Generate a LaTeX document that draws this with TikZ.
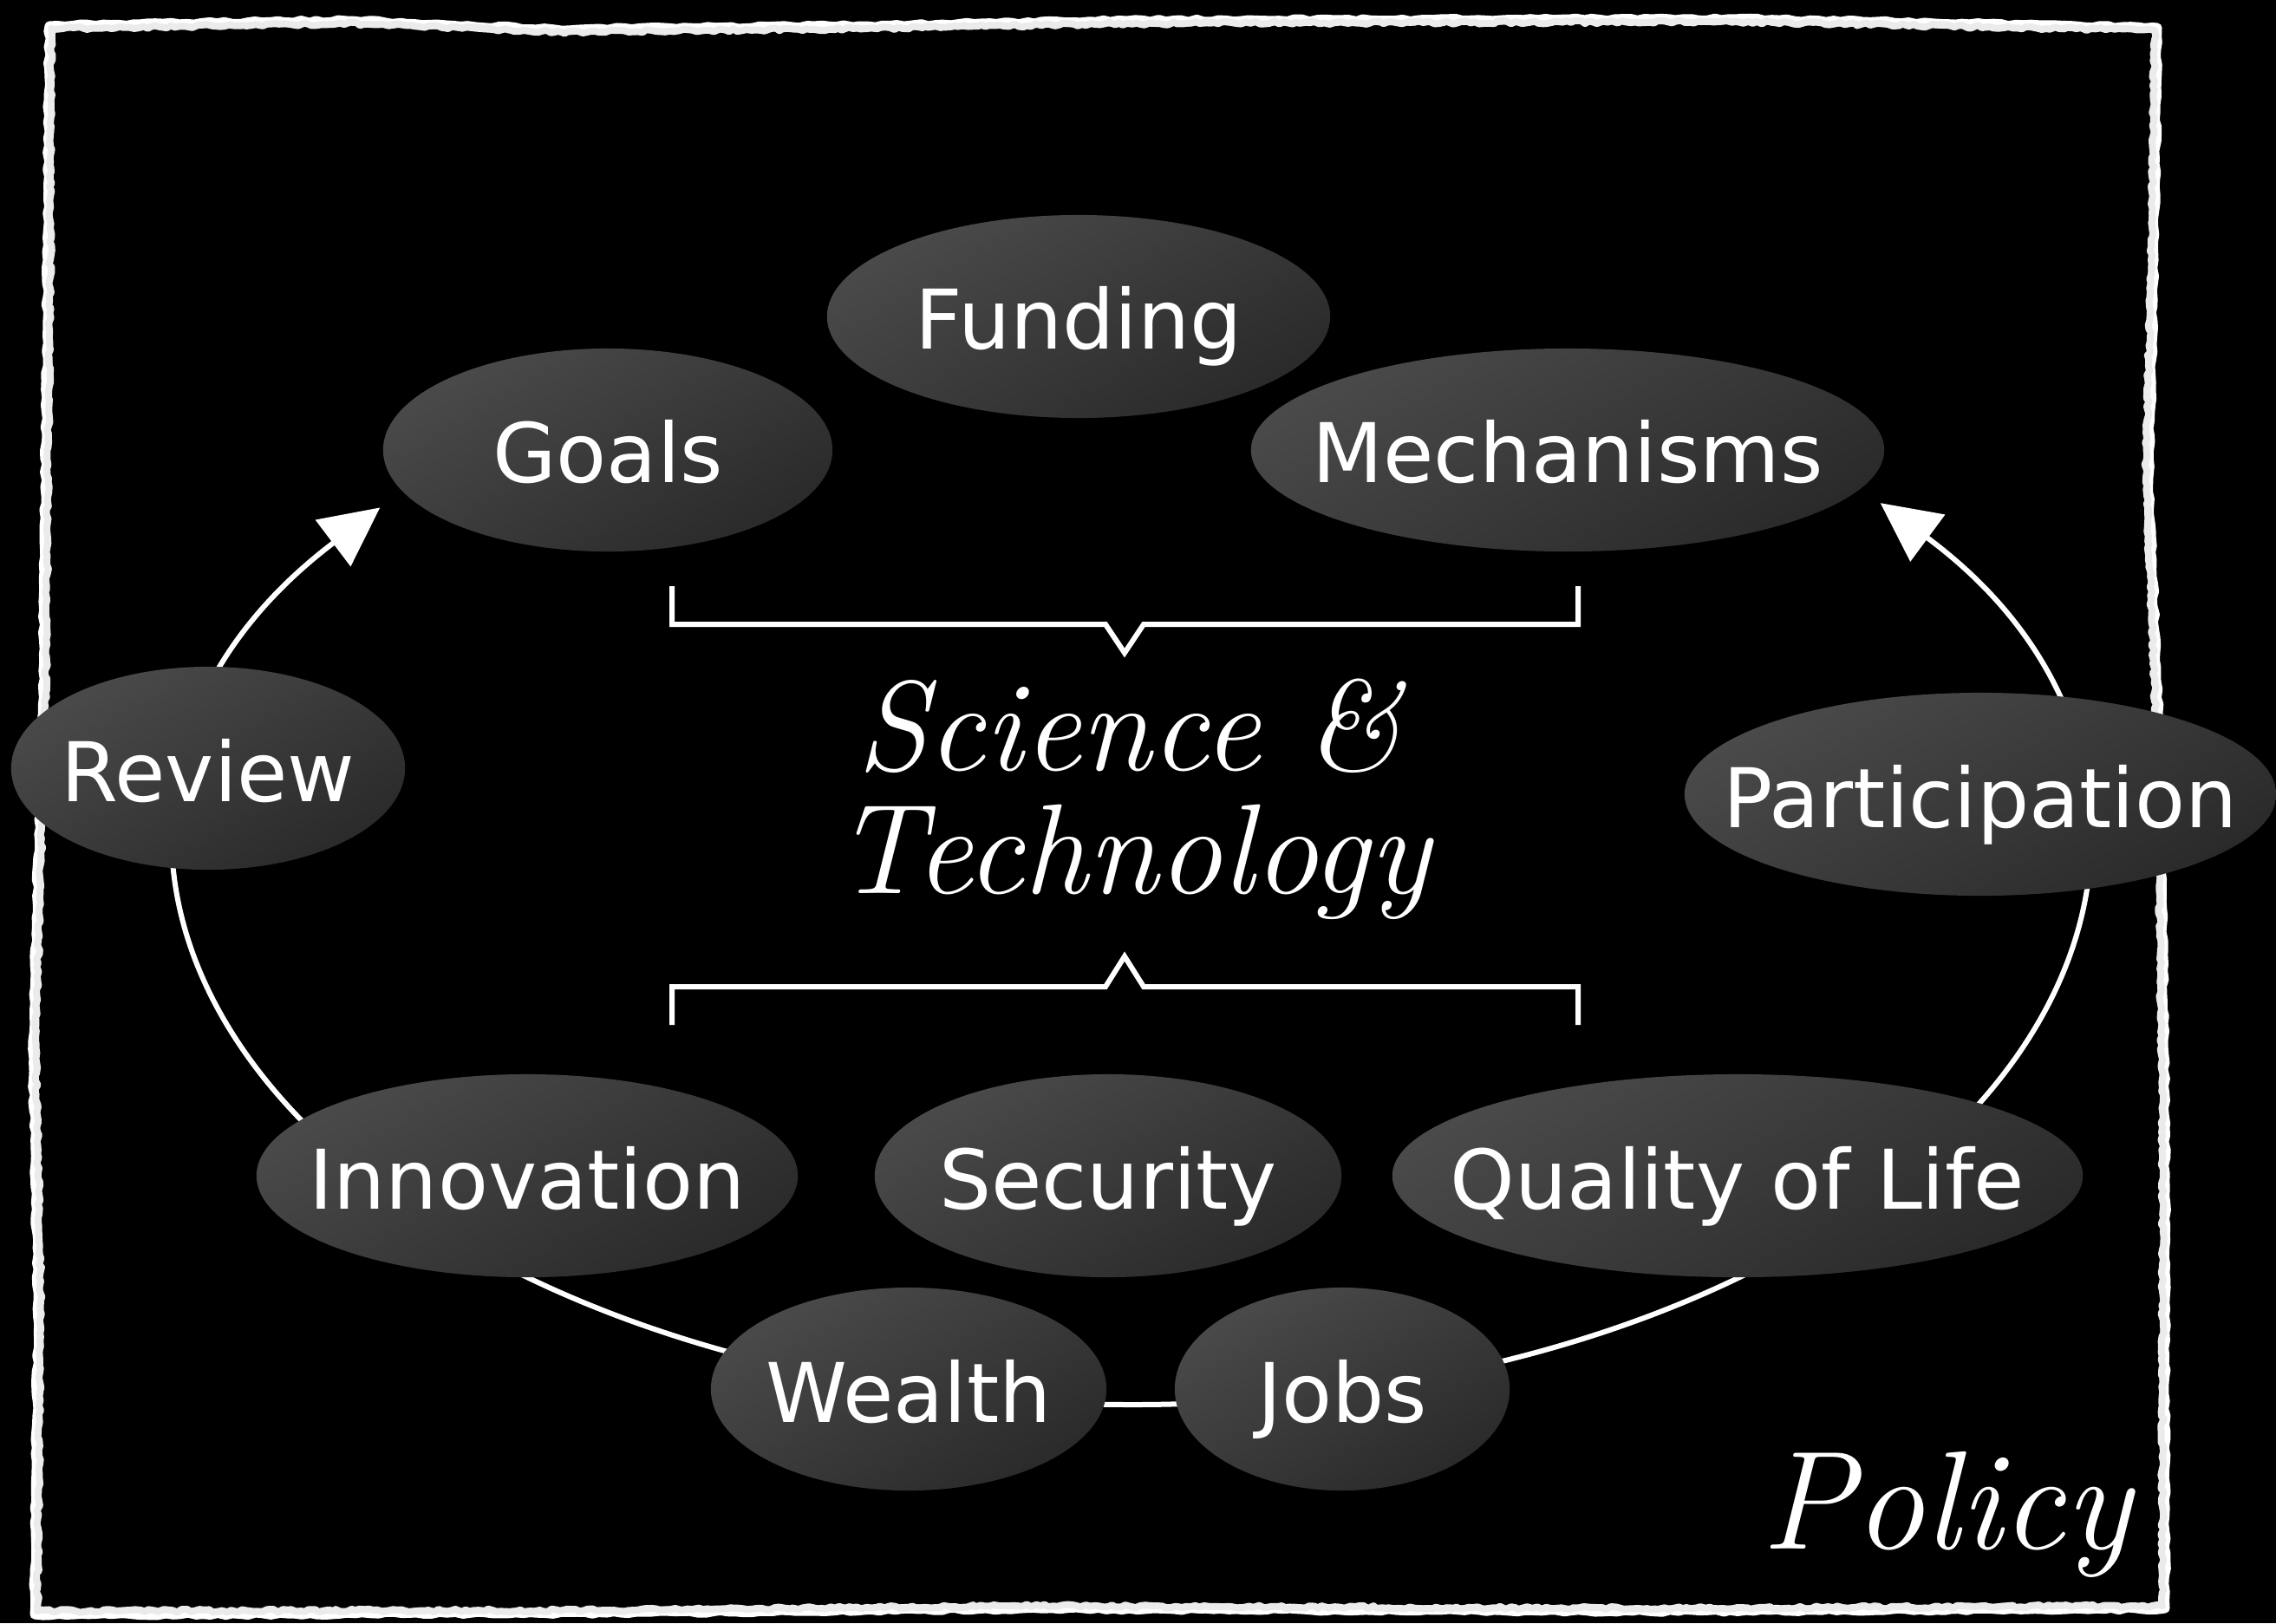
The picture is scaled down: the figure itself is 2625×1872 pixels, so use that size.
\documentclass[tikz,border=0pt]{standalone}
\usepackage{fontspec}
\newfontfamily\nodefont{DejaVu Sans}
\usetikzlibrary{shapes.geometric,arrows.meta,decorations.pathmorphing}
\definecolor{elltop}{HTML}{4A4A4A}
\definecolor{ellbot}{HTML}{2A2A2A}
\begin{document}
\begin{tikzpicture}[x=0.01cm,y=-0.01cm,
  bubble/.style={ellipse, inner sep=0pt, minimum height=2.34cm,
    top color=elltop, bottom color=ellbot, shading angle=30,
    text=white, text height=21.6pt, text depth=0pt,
    font=\nodefont\fontsize{27}{32}\selectfont},
  loopline/.style={white, line width=0.06cm},
  bracket/.style={white, line width=0.06cm, line join=miter},
  frameline/.style={white, line width=0.11cm, line join=round,
    decorate, decoration={random steps, segment length=2.5pt, amplitude=0.4pt}},
  framethin/.style={white!92!black, line width=0.08cm, line join=round,
    decorate, decoration={random steps, segment length=1.5pt, amplitude=0.5pt}},
  hand/.style={text=white, inner sep=0pt, anchor=base,
    font=\itshape\fontsize{42}{40}\selectfont}
]
\useasboundingbox (0,0) rectangle (2625,1872);
\fill[black] (0,0) rectangle (2625,1872);
\pgfmathsetseed{7}
% rough frame
\draw[frameline] (57,30) -- (400,24) -- (640,34) -- (1000,30) -- (1300,24) -- (2000,22) -- (2488,32)
  -- (2484,300) -- (2478,550) -- (2492,900) -- (2497,1300) -- (2497,1855)
  -- (1900,1858) -- (1200,1855) -- (700,1860) -- (40,1862) -- (44,1500) -- (38,1200) -- (50,800) -- (55,300) -- cycle;
\pgfmathsetseed{23}
\draw[framethin] (59,33) -- (400,27) -- (640,37) -- (1000,33) -- (1300,27) -- (2000,25) -- (2485,35)
  -- (2481,300) -- (2475,550) -- (2489,900) -- (2494,1300) -- (2494,1852)
  -- (1900,1855) -- (1200,1852) -- (700,1857) -- (43,1858) -- (47,1500) -- (41,1200) -- (53,800) -- (58,300) -- cycle;
% cycle loop
\coordinate (loopc) at (1307,978);
\draw[loopline, {Triangle[length=0.68cm, width=0.66cm]}-{Triangle[length=0.68cm, width=0.66cm]}]
  ([shift={(217.7:1098 and 642)}]loopc) arc[start angle=217.7, end angle=-38.3, x radius=1098, y radius=642];
% brackets
\draw[bracket] (775,676) -- (775,720) -- (1275,720) -- (1297,753) -- (1319,720) -- (1820,720) -- (1820,676);
\draw[bracket] (775,1182) -- (775,1138) -- (1275,1138) -- (1297,1103) -- (1319,1138) -- (1820,1138) -- (1820,1182);
% bubbles
\node[bubble, minimum width=5.8cm]  (funding) at (1244,365)  {\makebox[0pt]{Funding}};
\node[bubble, minimum width=5.18cm] (goals)   at (701,519)   {\makebox[0pt]{Goals}};
\node[bubble, minimum width=7.3cm]  (mech)    at (1808,519)  {\makebox[0pt]{Mechanisms}};
\node[bubble, minimum width=4.54cm] (review)  at (240,886)   {\makebox[0pt]{Review}};
\node[bubble, minimum width=6.82cm] (part)    at (2284,916)  {\makebox[0pt]{Participation}};
\node[bubble, minimum width=6.24cm] (innov)   at (608,1356)  {\makebox[0pt]{Innovation}};
\node[bubble, minimum width=5.38cm] (sec)     at (1278,1356) {\makebox[0pt]{Security}};
\node[bubble, minimum width=7.96cm] (qol)     at (2004,1356) {\makebox[0pt]{Quality of Life}};
\node[bubble, minimum width=4.56cm] (wealth)  at (1048,1602) {\makebox[0pt]{Wealth}};
\node[bubble, minimum width=3.86cm] (jobs)    at (1548,1602) {\makebox[0pt]{Jobs}};
% handwritten texts
\node[hand] (sci)  at (1302,888)  {Science \&};
\node[hand] (tech) at (1306,1030) {Technology};
\node[hand, font=\itshape\fontsize{46}{40}\selectfont] (policy) at (2245,1786) {Policy};
\end{tikzpicture}
\end{document}
